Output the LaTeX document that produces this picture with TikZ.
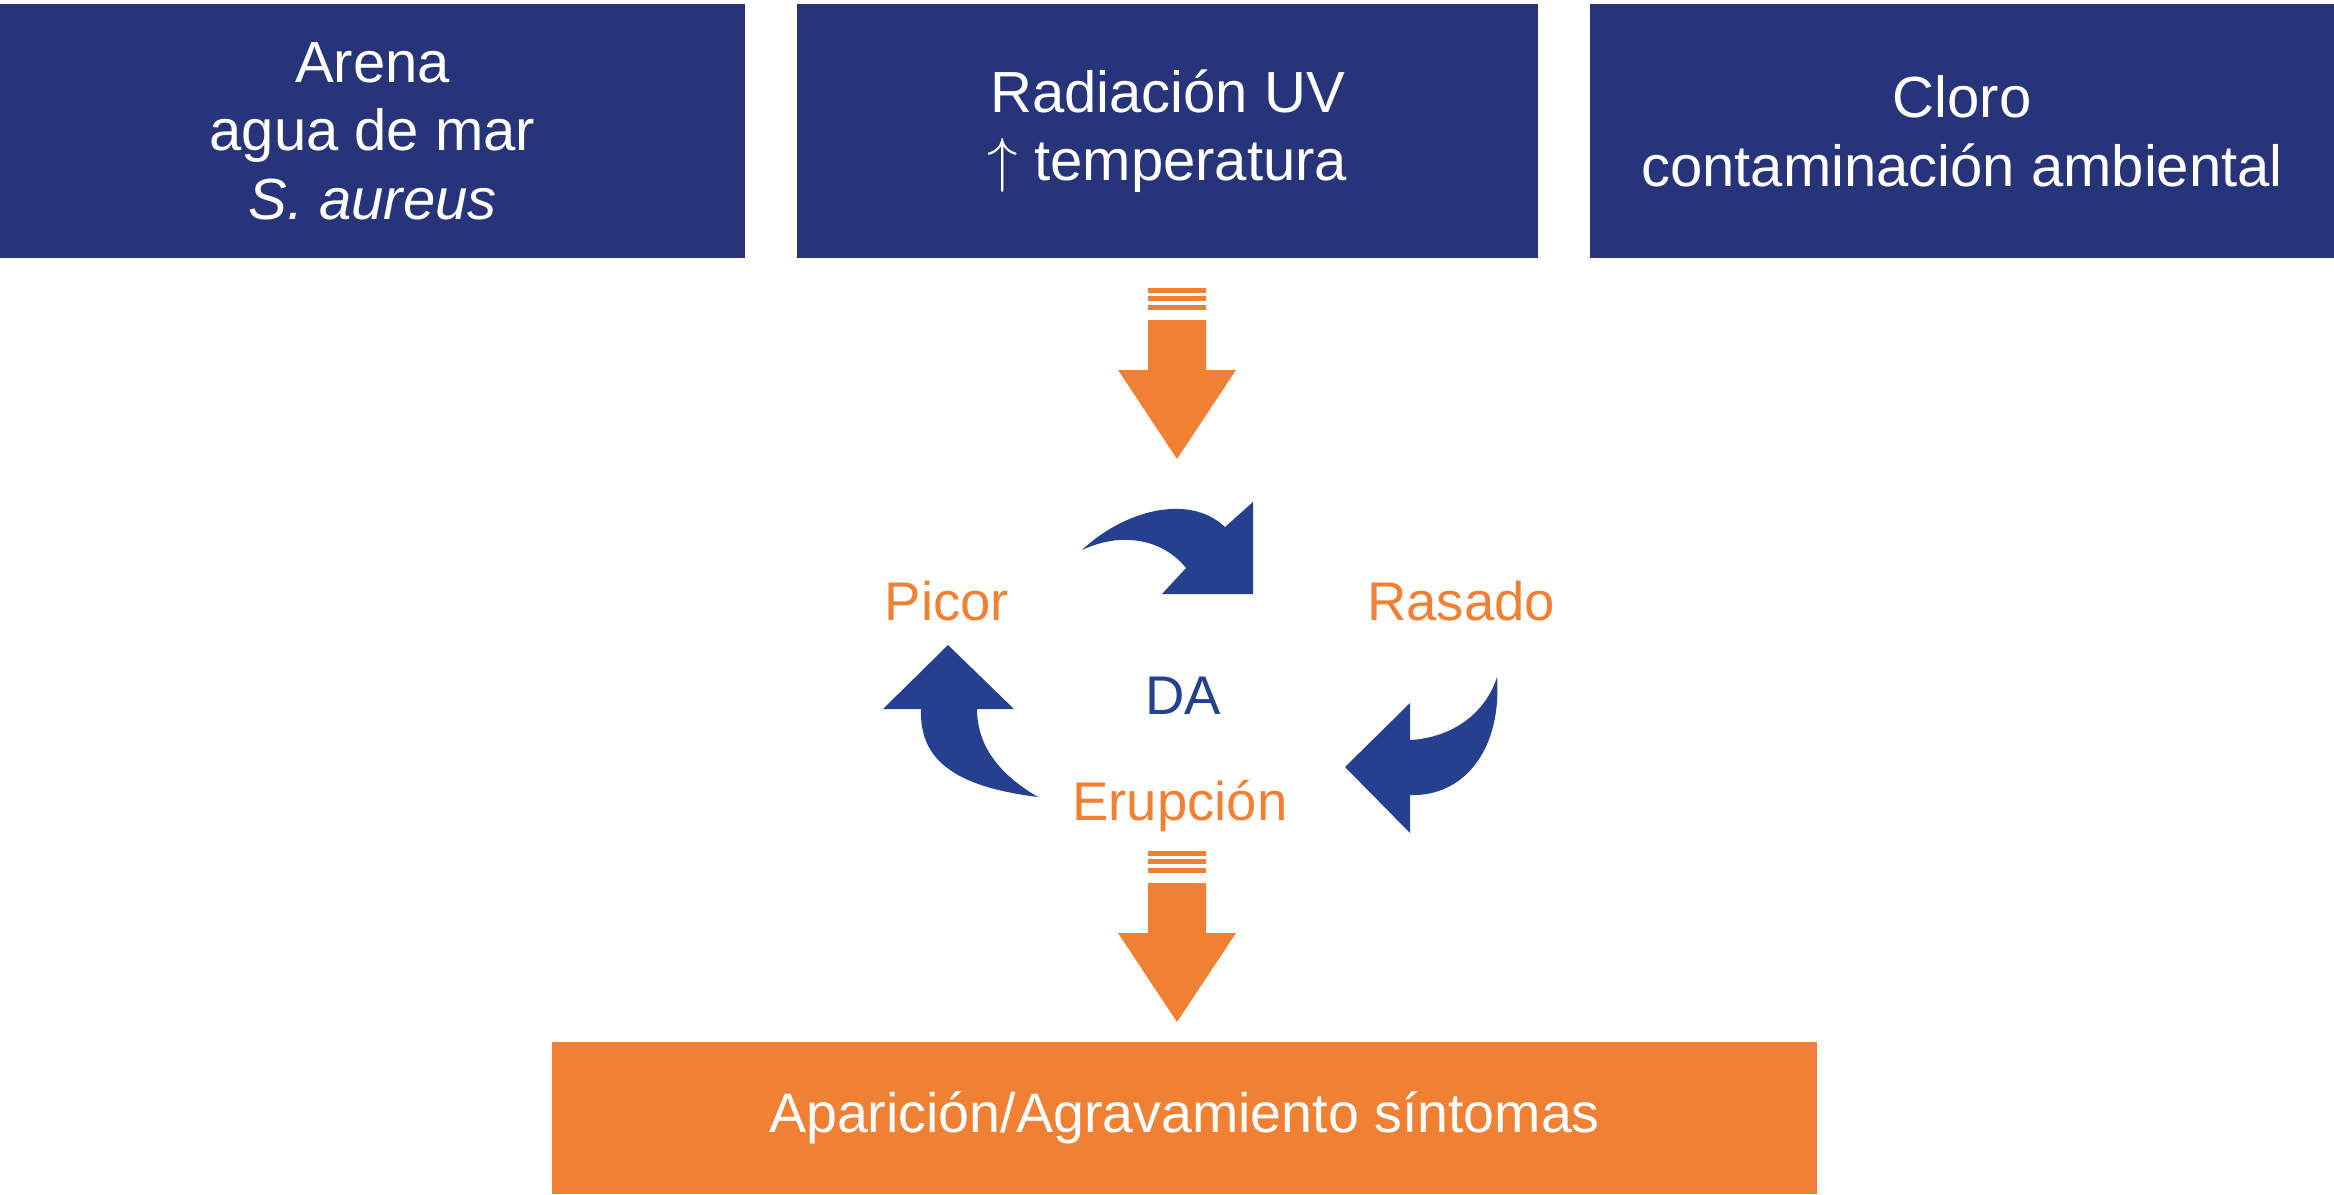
\documentclass[tikz,border=0pt]{standalone}
\usepackage{fontspec}
\setmainfont{Liberation Sans}
\usepackage{xcolor}
\usepackage{tikz}
\usetikzlibrary{positioning}

\definecolor{boxblue}{RGB}{39,52,122}
\definecolor{arrowblue}{RGB}{36,64,142}
\definecolor{dsorange}{RGB}{240,128,52}

\tikzset{
  srcbox/.style={fill=boxblue,text=white,align=center,inner sep=0pt,
    minimum height=2.54cm,font=\fontsize{16.5pt}{19.5pt}\selectfont},
  cyclelabel/.style={text=dsorange,anchor=base,inner sep=0pt},
  pics/stripedarrow/.style={code={
    \fill[dsorange] (-29,0) rectangle (29,4.5);
    \fill[dsorange] (-29,7.5) rectangle (29,12.5);
    \fill[dsorange] (-29,17) rectangle (29,21.5);
    \fill[dsorange] (-29,32) -- (29,32) -- (29,82)
      -- (59,82) -- (0,171) -- (-59,82) -- (-29,82) -- cycle;
  }}
}

\begin{document}
\begin{tikzpicture}[x=0.01cm,y=-0.01cm,
  every node/.style={font=\fontsize{15.5pt}{19pt}\selectfont}]
  \useasboundingbox (0,0) rectangle (2334,1194);
  % top boxes
  \node[srcbox,minimum width=7.45cm] (arena) at (372.5,131)
    {Arena\\agua de mar\\\textit{S. aureus}};
  \node[srcbox,minimum width=7.41cm] (uv) at (1167.5,131)
    {Radiación UV\\$\uparrow$ temperatura};
  \node[srcbox,minimum width=7.44cm] (cloro) at (1962,131)
    {Cloro\\contaminación ambiental};
  % arrow into the cycle
  \pic at (1177,288) {stripedarrow};
  % cycle labels
  \node[cyclelabel] (picor) at (947,620) {Picor};
  \node[cyclelabel] (rasado) at (1461,620) {Rasado};
  \node[cyclelabel,text=arrowblue] (da) at (1183,714) {DA};
  \node[cyclelabel] (erupcion) at (1180,820) {Erupción};
  % curved arrows
  \fill[arrowblue] (1082,550) .. controls (1122,512) and (1188,492) .. (1225,527)
    -- (1253,502) -- (1253,594) -- (1162,594) -- (1186,568)
    .. controls (1162,538) and (1120,532) .. cycle;
  \fill[arrowblue] (1345,767) -- (1410,703) -- (1410,740)
    .. controls (1450,738) and (1485,715) .. (1497,677)
    .. controls (1502,752) and (1462,797) .. (1410,795)
    -- (1410,833) -- cycle;
  \fill[arrowblue] (948,645) -- (1014,709) -- (977,709)
    .. controls (977,742) and (995,772) .. (1038,797)
    .. controls (958,787) and (919,762) .. (921,709)
    -- (883,709) -- cycle;
  % arrow out of the cycle
  \pic at (1177,851) {stripedarrow};
  % result
  \node[fill=dsorange,text=white,inner sep=0pt,minimum width=12.65cm,
    minimum height=1.52cm,font=\fontsize{15.8pt}{19pt}\selectfont]
    (sintomas) at (1184.5,1118) {Aparición/Agravamiento síntomas};
\end{tikzpicture}
\end{document}
